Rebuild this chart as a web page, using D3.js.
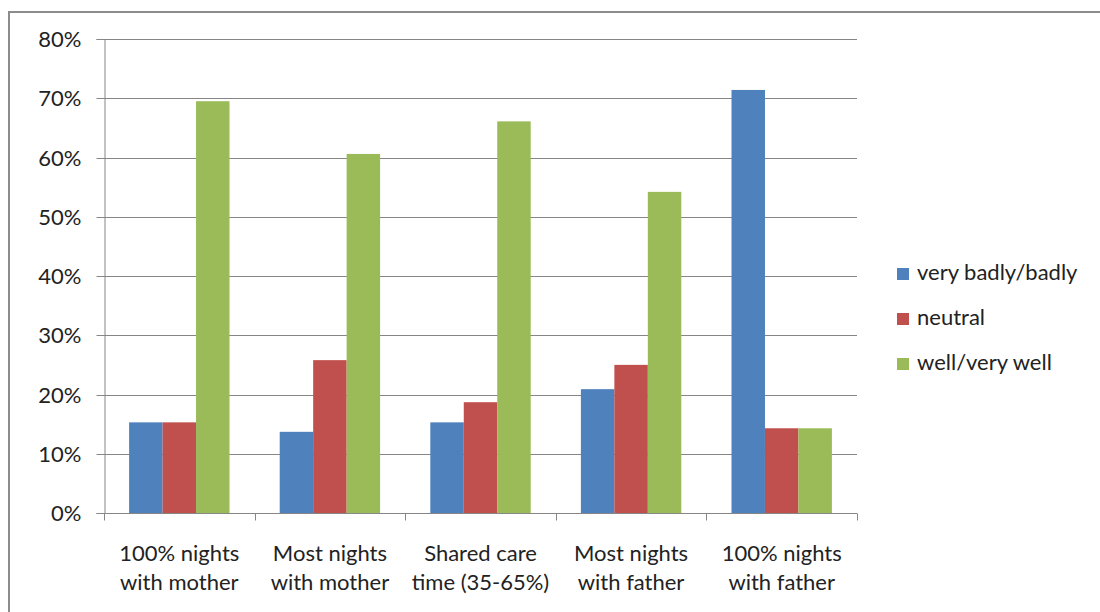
<!DOCTYPE html>
<html><head><meta charset="utf-8">
<script src="https://cdn.jsdelivr.net/npm/d3@7"></script>
<style>body{margin:0;background:#fff}svg{display:block}</style>
</head><body><svg id="c" width="1100" height="612"></svg>
<script>
const categories = [["100% nights","with mother"],["Most nights","with mother"],["Shared care","time (35-65%)"],["Most nights","with father"],["100% nights","with father"]];
const seriesNames = ["very badly/badly","neutral","well/very well"];
const seriesColors = ["#4F81BD","#C0504D","#9BBB59"];
const badly = [15.3, 13.7, 15.3, 20.9, 71.4];
const neutral = [15.3, 25.8, 18.7, 25.0, 14.3];
const well = [69.5, 60.6, 66.1, 54.2, 14.3];
const yTicks = [0,10,20,30,40,50,60,70,80];
const series = [badly, neutral, well];

const svg = d3.select("#c");
const font = "Lato, 'Open Sans', sans-serif";
const fs = "22px";
svg.append("rect").attr("x",9).attr("y",12).attr("width",1200).attr("height",700)
  .attr("fill","#fff").attr("stroke","#8c8c8c").attr("stroke-width",2);

const L=104, R=857, T=39, B=513;
const x0 = d3.scaleBand().domain(d3.range(categories.length)).range([L,R]).paddingInner(0).paddingOuter(0);
const x1 = d3.scaleBand().domain(d3.range(3)).range([0,x0.bandwidth()]).paddingOuter(0.75).paddingInner(0);
const y = d3.scaleLinear().domain([0,80]).range([B,T]);

// gridlines
svg.append("g").selectAll("line").data(yTicks.slice(1)).join("line")
  .attr("x1",L).attr("x2",R).attr("y1",d=>Math.round(y(d))+0.5).attr("y2",d=>Math.round(y(d))+0.5)
  .attr("stroke","#868686").attr("stroke-width",1);

// y axis
const ya = svg.append("g").attr("transform",`translate(${L+0.5},0)`)
  .call(d3.axisLeft(y).tickValues(yTicks).tickSize(8).tickPadding(15).tickFormat(d=>d+"%"));
ya.select(".domain").attr("stroke","#868686");
ya.selectAll(".tick line").attr("stroke","#868686");
ya.selectAll(".tick text").attr("font-family",font).attr("font-size",fs).attr("fill","#222");
ya.selectAll(".tick").attr("transform",d=>`translate(0,${Math.round(y(d))+0.5})`);

// bars
const g = svg.append("g");
series.forEach((s,si)=>{
  g.selectAll(null).data(s).join("rect")
    .attr("x",(d,i)=>x0(i)+x1(si)).attr("width",x1.bandwidth())
    .attr("y",d=>y(d)).attr("height",d=>B-y(d)).attr("fill",seriesColors[si]);
});

// x axis
const xa = svg.append("g").attr("transform",`translate(0,${B+0.5})`);
xa.append("line").attr("x1",L).attr("x2",R).attr("stroke","#868686");
const bounds = d3.range(categories.length+1).map(i=> i<categories.length ? x0(i) : R);
xa.selectAll("line.t").data(bounds).join("line").attr("class","t")
  .attr("x1",d=>Math.round(d)+0.5).attr("x2",d=>Math.round(d)+0.5).attr("y1",0).attr("y2",7).attr("stroke","#868686");
const lab = xa.selectAll("text").data(categories).join("text")
  .attr("font-family",font).attr("font-size",fs).attr("fill","#222").attr("text-anchor","middle");
lab.each(function(d,i){
  const t=d3.select(this);
  d.forEach((ln,k)=>t.append("tspan").attr("x",x0(i)+x0.bandwidth()/2).attr("y",47+k*29).text(ln));
});

// legend
const lg = svg.append("g").attr("transform","translate(897,272)");
seriesNames.forEach((n,i)=>{
  lg.append("rect").attr("x",0).attr("y",i*45-4).attr("width",12).attr("height",12).attr("fill",seriesColors[i]);
  lg.append("text").attr("x",20).attr("y",i*45+8).attr("font-family",font).attr("font-size",fs).attr("fill","#222").text(n);
});
</script></body></html>
